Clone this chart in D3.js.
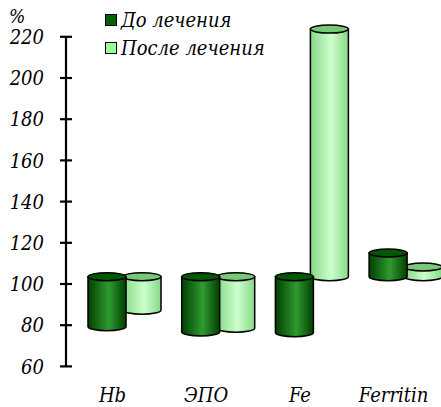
<!DOCTYPE html>
<html>
<head>
<meta charset="utf-8">
<script src="https://cdn.jsdelivr.net/npm/d3@7"></script>
<style>
  html, body { margin: 0; padding: 0; background: #fff; }
  svg { display: block; }
</style>
</head>
<body>
<svg id="chart" width="441" height="407"></svg>
<script>
// Indicators and change relative to baseline (100 %)
const categories = ["Hb", "ЭПО", "Fe", "Ferritin"];
const seriesNames = ["До лечения", "После лечения"];
const before = [75.7, 73.2, 72.8, 111.5];
const after = [83.7, 75.0, 220.2, 104.7];
const yTicks = [60, 80, 100, 120, 140, 160, 180, 200, 220];
const baseline = 100;

const FONT = "'DejaVu Serif Condensed', 'DejaVu Serif', serif";

const svg = d3.select("#chart")
  .attr("font-family", FONT).attr("font-style", "italic")
  .style("font-stretch", "condensed");

const y = d3.scaleLinear().domain([60, 220]).range([366.4, 36.8]);
const x0 = d3.scaleBand().domain(categories).range([77.65, 452.45]);
const x1 = d3.scaleBand().domain(seriesNames).range([0, 70]);

const depth = 7.3;   // vertical offset of cylinder caps (3D look)
const rx = 19, ry = 4;

// Gradients for cylinder bodies
const defs = svg.append("defs");
function grad(id, edge, mid) {
  const g = defs.append("linearGradient").attr("id", id)
    .attr("x1", "0%").attr("x2", "100%").attr("y1", "0%").attr("y2", "0%");
  g.append("stop").attr("offset", "0%").attr("stop-color", edge);
  g.append("stop").attr("offset", "55%").attr("stop-color", mid);
  g.append("stop").attr("offset", "100%").attr("stop-color", edge);
}
grad("gDark", "#004000", "#2f9a2f");
grad("gLight", "#86d886", "#ccffcc");

const styles = {
  "До лечения": { body: "url(#gDark)", cap: "#005800", legend: "#006400" },
  "После лечения": { body: "url(#gLight)", cap: "#78c878", legend: "#99ff99" }
};

const rows = [];
categories.forEach((c, i) => {
  rows.push({ cat: c, series: seriesNames[1], value: after[i] });
  rows.push({ cat: c, series: seriesNames[0], value: before[i] });
});

const bars = svg.append("g");
rows.forEach(d => {
  const cx = x0(d.cat) + x0.bandwidth() / 2 - 35 + x1(d.series) + x1.bandwidth() / 2;
  const yTop = Math.min(y(d.value), y(baseline)) - depth;
  const yBot = Math.max(y(d.value), y(baseline)) - depth;
  const st = styles[d.series];
  const g = bars.append("g");
  g.append("path")
    .attr("d", `M${cx - rx},${yTop} L${cx - rx},${yBot} A${rx},${ry} 0 0 0 ${cx + rx},${yBot} L${cx + rx},${yTop} Z`)
    .attr("fill", st.body).attr("stroke", "#000").attr("stroke-width", 1.5);
  g.append("ellipse")
    .attr("cx", cx).attr("cy", yTop).attr("rx", rx).attr("ry", ry)
    .attr("fill", st.cap).attr("stroke", "#000").attr("stroke-width", 1.5);
});

// Y axis
const axisX = 66;
const yAxis = svg.append("g").attr("transform", `translate(${axisX},0)`);
yAxis.append("line").attr("x1", 0).attr("x2", 0)
  .attr("y1", y(220)).attr("y2", y(60)).attr("stroke", "#000").attr("stroke-width", 2.2);
yTicks.forEach(t => {
  yAxis.append("line").attr("x1", -6).attr("x2", 6)
    .attr("y1", y(t)).attr("y2", y(t)).attr("stroke", "#000").attr("stroke-width", 2.2);
  yAxis.append("text").attr("x", -22).attr("y", y(t)).attr("dy", "0.36em")
    .attr("text-anchor", "end").attr("font-size", 20).text(t);
});
svg.append("text").attr("x", 9).attr("y", 23).attr("font-size", 19).text("%");

// Category labels
categories.forEach(c => {
  svg.append("text")
    .attr("x", x0(c) + x0.bandwidth() / 2 - 12).attr("y", 402)
    .attr("text-anchor", "middle").attr("font-size", 20).text(c);
});

// Legend
const legend = svg.append("g");
seriesNames.forEach((s, i) => {
  const yy = 14 + i * 28;
  legend.append("rect").attr("x", 105.5).attr("y", yy + 0.5).attr("width", 11).attr("height", 11)
    .attr("fill", styles[s].legend).attr("stroke", "#000").attr("stroke-width", 1);
  legend.append("text").attr("x", 121).attr("y", yy + 12.5).attr("font-size", 20).text(s);
});
</script>
</body>
</html>
